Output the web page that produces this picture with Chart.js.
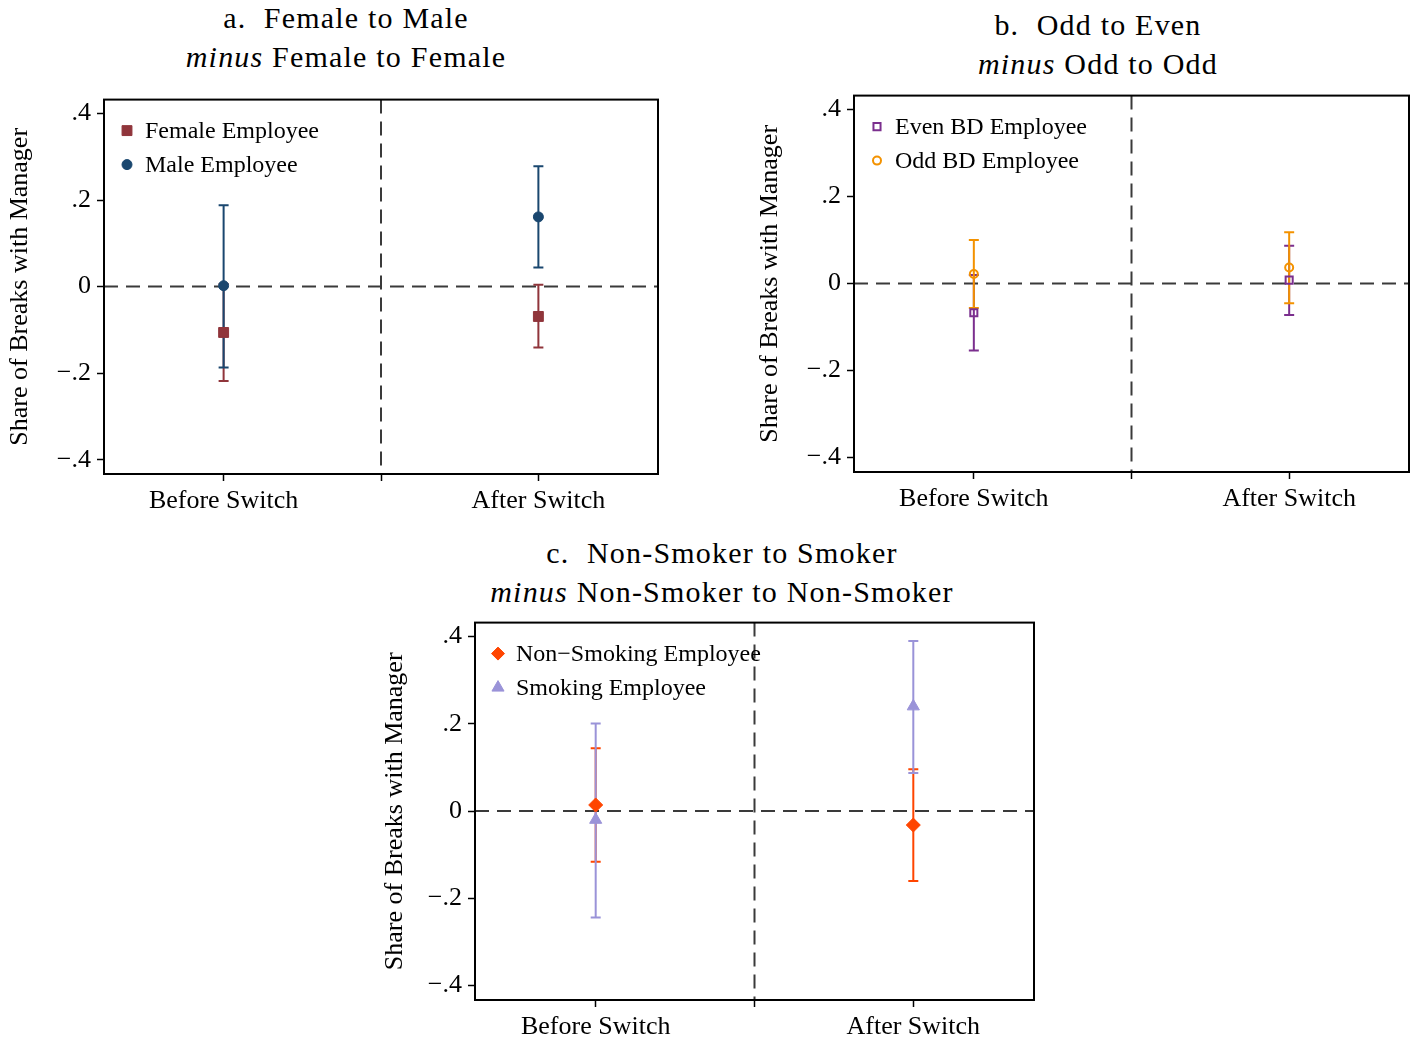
<!DOCTYPE html>
<html>
<head>
<meta charset="utf-8">
<script src="https://cdn.jsdelivr.net/npm/chart.js@4.4.0/dist/chart.umd.min.js"></script>
<style>
body { margin: 0; background: #fff; width: 1416px; height: 1042px; position: relative; overflow: hidden; font-family: "Liberation Serif", "Times New Roman", serif; }
.panel { position: absolute; }
.ttl { position: absolute; text-align: center; font-size: 30px; letter-spacing: 1.2px; line-height: 39px; color: #000; white-space: nowrap; }
</style>
</head>
<body>
<div class="ttl" style="left:146px; top:-2px; width:400px;">a.&nbsp; Female to Male<br><i>minus</i> Female to Female</div>
<div class="ttl" style="left:898px; top:5px; width:400px;">b.&nbsp; Odd to Even<br><i>minus</i> Odd to Odd</div>
<div class="ttl" style="left:422px; top:533px; width:600px;">c.&nbsp; Non-Smoker to Smoker<br><i>minus</i> Non-Smoker to Non-Smoker</div>

<div class="panel" style="left:0px; top:78px; width:690px; height:452px;"><canvas id="panelA"></canvas></div>
<div class="panel" style="left:750px; top:74px; width:666px; height:452px;"><canvas id="panelB"></canvas></div>
<div class="panel" style="left:375px; top:601px; width:700px; height:441px;"><canvas id="panelC"></canvas></div>

<script>
// categories / ticks
const categories = ['Before Switch', 'After Switch'];
const xPos = [1, 2];
const xTicks = [1, 1.5, 2];
const xTickLabels = ['Before Switch', '', 'After Switch'];
const yTicks = [-0.4, -0.2, 0, 0.2, 0.4];
const yTickLabels = ['\u2212.4', '\u2212.2', '0', '.2', '.4'];

// a. gender
const femaleEst = [-0.106, -0.069];
const femaleLo = [-0.218, -0.141];
const femaleHi = [0.006, 0.004];
const maleEst = [0.002, 0.161];
const maleLo = [-0.187, 0.044];
const maleHi = [0.188, 0.278];

// b. birthday
const evenEst = [-0.067, 0.008];
const evenLo = [-0.154, -0.072];
const evenHi = [0.020, 0.087];
const oddEst = [0.022, 0.037];
const oddLo = [-0.056, -0.045];
const oddHi = [0.100, 0.118];

// c. smoking
const nonSmokEst = [0.014, -0.032];
const nonSmokLo = [-0.116, -0.160];
const nonSmokHi = [0.144, 0.096];
const smokEst = [-0.020, 0.240];
const smokLo = [-0.244, 0.087];
const smokHi = [0.201, 0.390];

const FONT = '"Liberation Serif", "Times New Roman", serif';

// dashed lines at y=0 and between the two categories
const refLines = {
    id: 'refLines',
    beforeDatasetsDraw(chart) {
        const ctx = chart.ctx, a = chart.chartArea;
        const y0 = chart.scales.y.getPixelForValue(0);
        const xm = chart.scales.x.getPixelForValue(1.5);
        ctx.save();
        ctx.strokeStyle = '#3a3a3a';
        ctx.lineWidth = 2;
        ctx.setLineDash([14, 8]);
        ctx.beginPath();
        ctx.moveTo(a.left, y0); ctx.lineTo(a.right, y0);
        ctx.moveTo(xm, a.top); ctx.lineTo(xm, a.bottom);
        ctx.stroke();
        ctx.restore();
    }
};

// confidence intervals with caps
const errorBars = {
    id: 'errorBars',
    beforeDatasetsDraw(chart) {
        const ctx = chart.ctx, xs = chart.scales.x, ys = chart.scales.y;
        chart.data.datasets.forEach(ds => {
            ctx.save();
            ctx.strokeStyle = ds.ciColor;
            ctx.lineWidth = 2;
            ds.data.forEach((p, i) => {
                const x = xs.getPixelForValue(p.x);
                const top = ys.getPixelForValue(ds.ciHi[i]);
                const bot = ys.getPixelForValue(ds.ciLo[i]);
                ctx.beginPath();
                ctx.moveTo(x, top); ctx.lineTo(x, bot);
                ctx.moveTo(x - 5, top); ctx.lineTo(x + 5, top);
                ctx.moveTo(x - 5, bot); ctx.lineTo(x + 5, bot);
                ctx.stroke();
            });
            ctx.restore();
        });
    }
};

const frame = {
    id: 'frame',
    afterDraw(chart) {
        const ctx = chart.ctx, a = chart.chartArea;
        ctx.save();
        ctx.strokeStyle = '#000';
        ctx.lineWidth = 2;
        ctx.strokeRect(a.left, a.top, a.right - a.left, a.bottom - a.top);
        ctx.restore();
    }
};

// legend drawn inside the plot region, top left
const insideLegend = {
    id: 'insideLegend',
    afterDatasetsDraw(chart) {
        const ctx = chart.ctx, a = chart.chartArea;
        ctx.save();
        chart.data.datasets.forEach((ds, i) => {
            const x = a.left + 23, y = a.top + 31 + i * 34;
            ctx.fillStyle = ds.backgroundColor;
            ctx.strokeStyle = ds.borderColor;
            ctx.lineWidth = ds.borderWidth;
            Chart.helpers.drawPoint(ctx, {pointStyle: ds.pointStyle, radius: ds.legendRadius, borderWidth: ds.borderWidth, rotation: 0}, x, y);
            ctx.fillStyle = '#000';
            ctx.font = '24px ' + FONT;
            ctx.textBaseline = 'middle';
            ctx.fillText(ds.label, a.left + 41, y + 1);
        });
        ctx.restore();
    }
};

function series(label, est, lo, hi, color, style, radius, legendRadius, hollow) {
    return {
        label: label,
        data: xPos.map((x, i) => ({x: x, y: est[i]})),
        ciLo: lo,
        ciHi: hi,
        ciColor: color,
        pointStyle: style,
        pointRadius: radius,
        pointHoverRadius: radius,
        legendRadius: legendRadius,
        backgroundColor: hollow ? 'rgba(0,0,0,0)' : color,
        borderColor: color,
        borderWidth: hollow ? 2 : 1
    };
}

function makePanel(id, datasets, pad, yWidth, xHeight) {
    return new Chart(document.getElementById(id), {
        type: 'scatter',
        data: {datasets: datasets},
        plugins: [refLines, errorBars, frame, insideLegend],
        options: {
            responsive: true,
            maintainAspectRatio: false,
            animation: false,
            layout: {padding: pad},
            plugins: {legend: {display: false}, tooltip: {enabled: false}},
            scales: {
                x: {
                    type: 'linear',
                    min: 0.62,
                    max: 2.38,
                    afterBuildTicks: s => { s.ticks = xTicks.map(v => ({value: v})); },
                    afterFit: s => { s.height = xHeight; },
                    border: {display: false},
                    grid: {drawOnChartArea: false, drawTicks: true, tickLength: 7, tickColor: '#000', tickWidth: 1.5},
                    ticks: {
                        autoSkip: false, maxRotation: 0, padding: 5,
                        color: '#000', font: {family: FONT, size: 26},
                        callback: (v, i) => xTickLabels[i]
                    }
                },
                y: {
                    min: -0.433,
                    max: 0.432,
                    afterBuildTicks: s => { s.ticks = yTicks.map(v => ({value: v})); },
                    afterFit: s => { s.width = yWidth; },
                    border: {display: false},
                    grid: {drawOnChartArea: false, drawTicks: true, tickLength: 7, tickColor: '#000', tickWidth: 1.5},
                    ticks: {
                        padding: 6, color: '#000', font: {family: FONT, size: 26},
                        callback: (v, i) => yTickLabels[i]
                    },
                    title: {
                        display: true, text: 'Share of Breaks with Manager',
                        color: '#000', font: {family: FONT, size: 26},
                        padding: {top: 5, bottom: 0}
                    }
                }
            }
        }
    });
}

makePanel('panelA', [
    series('Female Employee', femaleEst, femaleLo, femaleHi, '#90353b', 'rect', 7, 7, false),
    series('Male Employee', maleEst, maleLo, maleHi, '#1a476f', 'circle', 5, 5, false)
], {left: 0, top: 9, right: 32, bottom: 10}, 104, 46);

makePanel('panelB', [
    series('Even BD Employee', evenEst, evenLo, evenHi, '#7b2f8e', 'rect', 5, 5, true),
    series('Odd BD Employee', oddEst, oddLo, oddHi, '#f39200', 'circle', 4, 4, true)
], {left: 0, top: 9, right: 5, bottom: 8}, 104, 46);

makePanel('panelC', [
    series('Non\u2212Smoking Employee', nonSmokEst, nonSmokLo, nonSmokHi, '#ff4500', 'rectRot', 7, 6.5, false),
    series('Smoking Employee', smokEst, smokLo, smokHi, '#9a93d8', 'triangle', 7, 7, false)
], {left: 0, top: 9, right: 41, bottom: 2}, 100, 40);
</script>
</body>
</html>
